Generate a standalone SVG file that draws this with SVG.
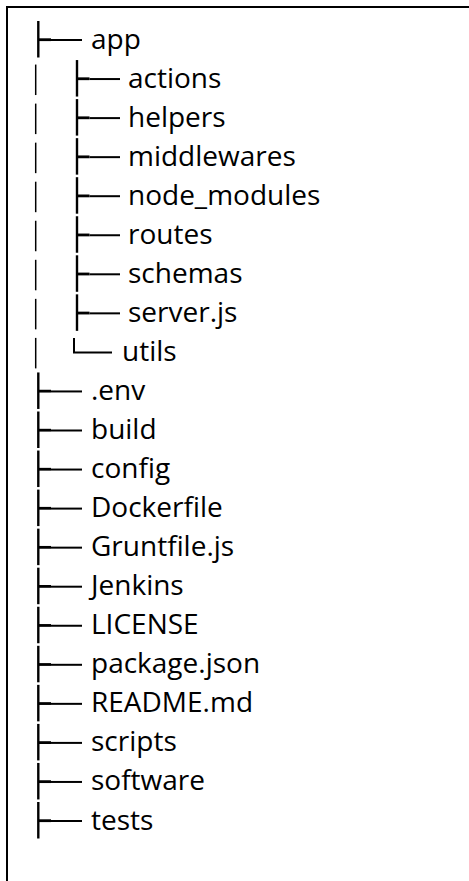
<svg xmlns="http://www.w3.org/2000/svg" xmlns:xlink="http://www.w3.org/1999/xlink" width="469" height="881" viewBox="0 0 469 881">
  <style>
    .lbl { font-family: "Open Sans", "Noto Sans", "Liberation Sans", sans-serif; font-size: 28px; fill: #000; }
    .frame { fill: none; stroke: #000; stroke-width: 2; }
    .v { stroke: #000; stroke-width: 2.4; fill: none; }
    .hk { stroke: #000; stroke-width: 2.8; fill: none; }
    .h { stroke: #000; stroke-width: 2; fill: none; }
    .bar { stroke: #000; stroke-width: 1.5; fill: none; }
  </style>
  <defs>
    <g id="tee1">
      <line class="v" x1="38.3" y1="-27.5" x2="38.3" y2="9"/>
      <line class="hk" x1="38.3" y1="-8.8" x2="51" y2="-8.8"/>
      <line class="h" x1="51" y1="-8.5" x2="82" y2="-8.5"/>
    </g>
    <g id="tee2">
      <line class="v" x1="77" y1="-27.5" x2="77" y2="9"/>
      <line class="hk" x1="77" y1="-8.8" x2="89.5" y2="-8.8"/>
      <line class="h" x1="89.5" y1="-8.5" x2="120" y2="-8.5"/>
    </g>
    <g id="end2">
      <path class="h" d="M74,-23 V-8.5 H112"/>
    </g>
    <g id="bar1">
      <line class="bar" x1="35.7" y1="-23" x2="35.7" y2="7.5"/>
    </g>
  </defs>

  <rect id="background" x="0" y="0" width="469" height="881" fill="#fff"/>
  <path id="frame" class="frame" d="M7,881 V7 H469"/>

  <g id="connectors">
    <use xlink:href="#tee1" y="48.5"/>
    <use xlink:href="#bar1" y="87.55"/>
    <use xlink:href="#tee2" y="87.55"/>
    <use xlink:href="#bar1" y="126.6"/>
    <use xlink:href="#tee2" y="126.6"/>
    <use xlink:href="#bar1" y="165.65"/>
    <use xlink:href="#tee2" y="165.65"/>
    <use xlink:href="#bar1" y="204.7"/>
    <use xlink:href="#tee2" y="204.7"/>
    <use xlink:href="#bar1" y="243.75"/>
    <use xlink:href="#tee2" y="243.75"/>
    <use xlink:href="#bar1" y="282.8"/>
    <use xlink:href="#tee2" y="282.8"/>
    <use xlink:href="#bar1" y="321.85"/>
    <use xlink:href="#tee2" y="321.85"/>
    <use xlink:href="#bar1" y="360.9"/>
    <use xlink:href="#end2" y="360.9"/>
    <use xlink:href="#tee1" y="399.95"/>
    <use xlink:href="#tee1" y="439"/>
    <use xlink:href="#tee1" y="478.05"/>
    <use xlink:href="#tee1" y="517.1"/>
    <use xlink:href="#tee1" y="556.15"/>
    <use xlink:href="#tee1" y="595.2"/>
    <use xlink:href="#tee1" y="634.25"/>
    <use xlink:href="#tee1" y="673.3"/>
    <use xlink:href="#tee1" y="712.35"/>
    <use xlink:href="#tee1" y="751.4"/>
    <use xlink:href="#tee1" y="790.45"/>
    <use xlink:href="#tee1" y="829.5"/>
  </g>

  <g id="node-app"><text class="lbl" x="91" y="48.5">app</text></g>
  <g id="node-actions"><text class="lbl" x="128" y="87.55">actions</text></g>
  <g id="node-helpers"><text class="lbl" x="128" y="126.6">helpers</text></g>
  <g id="node-middlewares"><text class="lbl" x="128" y="165.65">middlewares</text></g>
  <g id="node-node_modules"><text class="lbl" x="128" y="204.7">node_modules</text></g>
  <g id="node-routes"><text class="lbl" x="128" y="243.75">routes</text></g>
  <g id="node-schemas"><text class="lbl" x="128" y="282.8">schemas</text></g>
  <g id="node-server-js"><text class="lbl" x="128" y="321.85">server.js</text></g>
  <g id="node-utils"><text class="lbl" x="122" y="360.9">utils</text></g>
  <g id="node-env"><text class="lbl" x="91" y="399.95">.env</text></g>
  <g id="node-build"><text class="lbl" x="91" y="439">build</text></g>
  <g id="node-config"><text class="lbl" x="91" y="478.05">config</text></g>
  <g id="node-dockerfile"><text class="lbl" x="91" y="517.1">Dockerfile</text></g>
  <g id="node-gruntfile"><text class="lbl" x="91" y="556.15">Gruntfile.js</text></g>
  <g id="node-jenkins"><text class="lbl" x="91" y="595.2">Jenkins</text></g>
  <g id="node-license"><text class="lbl" x="91" y="634.25">LICENSE</text></g>
  <g id="node-package"><text class="lbl" x="91" y="673.3">package.json</text></g>
  <g id="node-readme"><text class="lbl" x="91" y="712.35">README.md</text></g>
  <g id="node-scripts"><text class="lbl" x="91" y="751.4">scripts</text></g>
  <g id="node-software"><text class="lbl" x="91" y="790.45">software</text></g>
  <g id="node-tests"><text class="lbl" x="91" y="829.5">tests</text></g>
</svg>
